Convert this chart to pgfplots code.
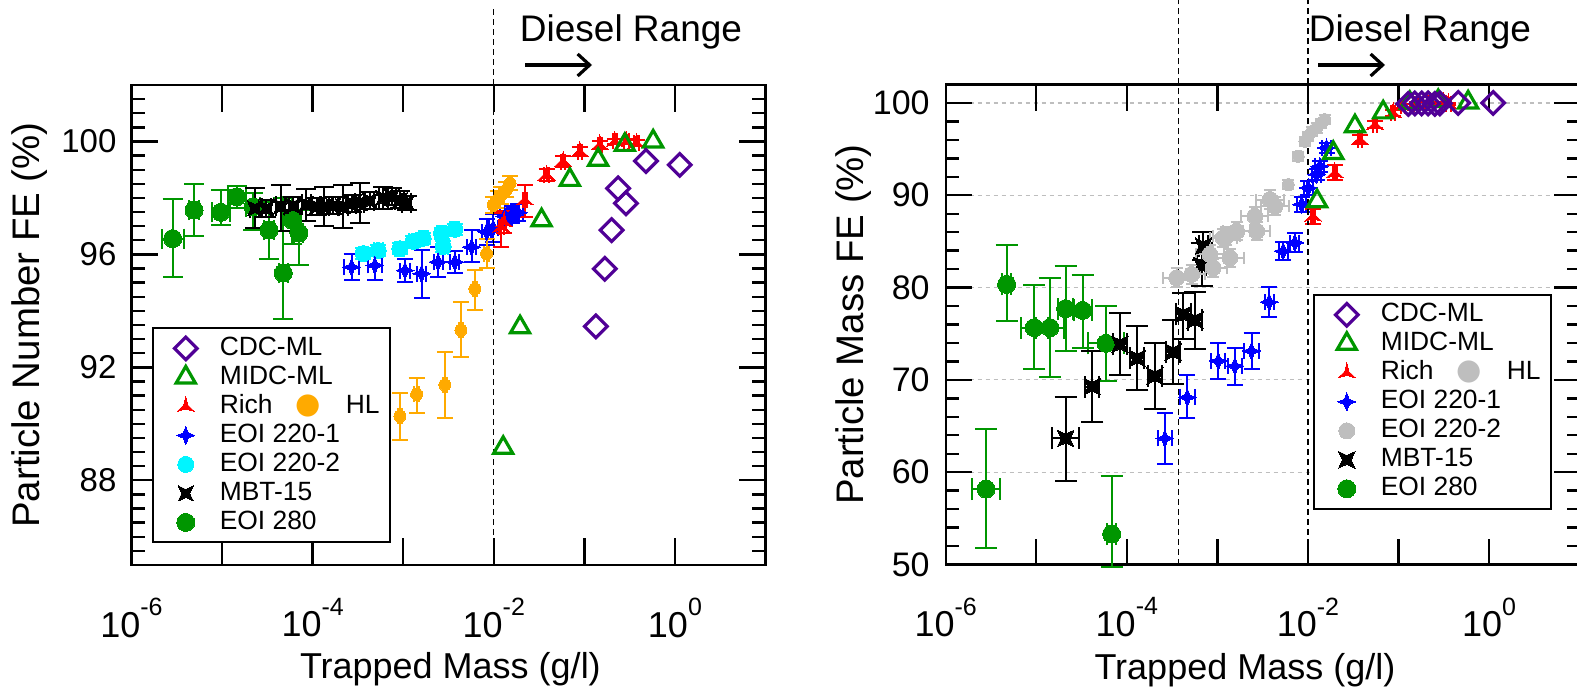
\documentclass[border=0pt]{standalone}
\usepackage{fontspec}
\setmainfont{Liberation Sans}
\newfontfamily\symfont{DejaVu Sans}
\usepackage{pgfplots}
\pgfplotsset{compat=1.18}
\usetikzlibrary{arrows.meta}

\definecolor{cdccol}{RGB}{80,0,150}
\definecolor{midccol}{RGB}{0,150,0}
\definecolor{richcol}{RGB}{255,0,0}
\definecolor{eoiacol}{RGB}{0,0,255}
\definecolor{eoibcol}{RGB}{0,245,255}
\definecolor{hlcol}{RGB}{255,170,0}
\definecolor{lgray}{RGB}{190,190,190}
\definecolor{eoiccol}{RGB}{0,150,0}

% decade tick label with a raised exponent
\newcommand{\dec}[1]{10\raisebox{0.6em}{\fontsize{12.5}{13}\selectfont #1}}
% filled circle used for the HL entry that shares the Rich row
\newcommand{\hldot}[1]{{\symfont\fontsize{14.5}{15}\selectfont\textcolor{#1}{●}}}

% concave four-point star
\pgfdeclareplotmark{fourstar}{%
  \pgfpathmoveto{\pgfqpoint{0pt}{\pgfplotmarksize}}%
  \pgfpathlineto{\pgfqpoint{0.28\pgfplotmarksize}{0.28\pgfplotmarksize}}%
  \pgfpathlineto{\pgfqpoint{\pgfplotmarksize}{0pt}}%
  \pgfpathlineto{\pgfqpoint{0.28\pgfplotmarksize}{-0.28\pgfplotmarksize}}%
  \pgfpathlineto{\pgfqpoint{0pt}{-\pgfplotmarksize}}%
  \pgfpathlineto{\pgfqpoint{-0.28\pgfplotmarksize}{-0.28\pgfplotmarksize}}%
  \pgfpathlineto{\pgfqpoint{-\pgfplotmarksize}{0pt}}%
  \pgfpathlineto{\pgfqpoint{-0.28\pgfplotmarksize}{0.28\pgfplotmarksize}}%
  \pgfpathclose
  \pgfusepathqfillstroke}
% square with concave sides
\pgfdeclareplotmark{bowtie}{%
  \pgfpathmoveto{\pgfqpoint{0.75\pgfplotmarksize}{0.75\pgfplotmarksize}}%
  \pgfpathlineto{\pgfqpoint{0pt}{0.4\pgfplotmarksize}}%
  \pgfpathlineto{\pgfqpoint{-0.75\pgfplotmarksize}{0.75\pgfplotmarksize}}%
  \pgfpathlineto{\pgfqpoint{-0.4\pgfplotmarksize}{0pt}}%
  \pgfpathlineto{\pgfqpoint{-0.75\pgfplotmarksize}{-0.75\pgfplotmarksize}}%
  \pgfpathlineto{\pgfqpoint{0pt}{-0.4\pgfplotmarksize}}%
  \pgfpathlineto{\pgfqpoint{0.75\pgfplotmarksize}{-0.75\pgfplotmarksize}}%
  \pgfpathlineto{\pgfqpoint{0.4\pgfplotmarksize}{0pt}}%
  \pgfpathclose
  \pgfusepathqfillstroke}
% concave three-point star
\pgfdeclareplotmark{threestar}{%
  \pgfpathmoveto{\pgfqpoint{0pt}{\pgfplotmarksize}}%
  \pgfpathlineto{\pgfqpoint{-0.2165\pgfplotmarksize}{0.125\pgfplotmarksize}}%
  \pgfpathlineto{\pgfqpoint{-0.866\pgfplotmarksize}{-0.5\pgfplotmarksize}}%
  \pgfpathlineto{\pgfqpoint{0pt}{-0.25\pgfplotmarksize}}%
  \pgfpathlineto{\pgfqpoint{0.866\pgfplotmarksize}{-0.5\pgfplotmarksize}}%
  \pgfpathlineto{\pgfqpoint{0.2165\pgfplotmarksize}{0.125\pgfplotmarksize}}%
  \pgfpathclose
  \pgfusepathqfillstroke}

\begin{document}
\begin{tikzpicture}

% ---------- particle number filtration efficiency ----------
\begin{axis}[at={(65.75pt,-282.5pt)}, anchor=south west,
  scale only axis, width=317pt, height=240pt,
  xmode=log, xmin=1e-6, xmax=10,
  xtick={1e-6,1e-5,1e-4,1e-3,1e-2,1e-1,1,10},
  xticklabels={\dec{-6},,\dec{-4},,\dec{-2},,\dec{0},},
  xminorticks=false,
  ymin=85, ymax=102, ytick={88,92,96,100}, minor ytick={85,85.5,...,102},
  tick align=inside,
  major tick length=13.5pt, minor tick length=7pt,
  major tick style={line width=1.2pt, black},
  minor tick style={line width=1.2pt, black},
  axis line style={line width=1.2pt},
  /pgf/number format/assume math mode=true,
  xticklabel style={font=\fontsize{18}{20}\selectfont, yshift=-13pt},
  yticklabel style={font=\fontsize{16.5}{18}\selectfont, xshift=-4pt},
  clip=false,
  xlabel={Trapped Mass (g/l)},
  xlabel style={font=\fontsize{18}{20}\selectfont, at={(axis description cs:0.503,-0.218)}, anchor=center},
  ylabel={Particle Number FE (\%)},
  ylabel style={font=\fontsize{19.2}{22}\selectfont, at={(axis description cs:-0.160,0.5)}, anchor=center},
  reverse legend,
  legend cell align=left,
  legend image code/.code={\path (-12pt,0pt) (12pt,0pt); \draw[#1] plot coordinates {(0pt,0pt)};},
  legend style={at={(0.032,0.045)}, anchor=south west,
    draw=black, line width=1pt, fill=white,
    font=\fontsize{13.2}{15}\selectfont,
    inner xsep=4pt, inner ysep=3pt, row sep=0.5pt, column sep=3.5pt,
    nodes={inner sep=1pt, text height=9.5pt, text depth=2.5pt}},
]
\addplot[color=eoiccol, only marks, mark=*, mark size=4.5pt, mark options={line width=0pt},
  error bars/.cd, y dir=both, y explicit, x dir=both, x explicit relative,
  error bar style={line width=1pt}, error mark options={rotate=90, mark size=5pt, line width=1pt}]
  table[x=x, y=y, y error plus=yp, y error minus=ym, x error plus=xp, x error minus=xm] {
x y yp ym xp xm
2.85e-6 96.56 1.39 1.36 0.318 0.241
4.9e-6 97.57 0.91 0.93 0.122 0.109
9.7e-6 97.49 0.79 0.45 0.259 0.206
1.45e-5 98.04 0.38 0.41 0.259 0.206
2.2e-5 97.69 0.47 0.83 0.202 0.168
3.3e-5 96.86 1.00 1.01 0.122 0.109
4.74e-5 95.34 2.65 1.62 0.122 0.109
5.96e-5 97.21 0.83 0.83 0.259 0.206
7.06e-5 96.76 0.81 1.15 0.122 0.109
};
\addlegendentry{EOI 280}
\addplot[color=black, only marks, mark=bowtie, mark size=5pt, mark options={line width=0pt},
  error bars/.cd, y dir=both, y explicit, x dir=both, x explicit relative,
  error bar style={line width=1pt}, error mark options={rotate=90, mark size=5pt, line width=1pt}]
  table[x=x, y=y, y error plus=yp, y error minus=ym, x error plus=xp, x error minus=xm] {
x y yp ym xp xm
2.31e-5 97.63 0.71 0.71 0.122 0.109
3.09e-5 97.63 0.30 0.30 0.122 0.109
4.47e-5 97.70 0.77 0.86 0.122 0.109
6.11e-5 97.72 0.30 0.30 0.122 0.109
8.51e-5 97.77 0.55 0.60 0.122 0.109
1.107e-4 97.70 0.30 0.30 0.122 0.109
1.343e-4 97.70 0.70 0.70 0.122 0.109
1.687e-4 97.72 0.30 0.30 0.122 0.109
2.178e-4 97.70 0.77 0.77 0.122 0.109
2.69e-4 97.80 0.30 0.30 0.122 0.109
3.33e-4 97.83 0.70 0.70 0.122 0.109
4.27e-4 97.90 0.30 0.30 0.122 0.109
6.03e-4 98.00 0.40 0.40 0.122 0.109
7.45e-4 98.05 0.30 0.30 0.122 0.109
9.2e-4 97.93 0.30 0.30 0.122 0.109
1.089e-3 97.83 0.25 0.25 0.122 0.109
};
\addlegendentry{MBT-15}
\addplot[color=eoibcol, only marks, mark=*, mark size=4pt, mark options={line width=0pt},
  error bars/.cd, y dir=both, y explicit, x dir=both, x explicit relative,
  error bar style={line width=1pt}, error mark options={rotate=90, mark size=4pt, line width=1pt}]
  table[x=x, y=y, y error plus=yp, y error minus=ym, x error plus=xp, x error minus=xm] {
x y yp ym xp xm
3.63e-4 96.03 0.20 0.20 0.122 0.109
5.3e-4 96.14 0.20 0.20 0.122 0.109
9.2e-4 96.20 0.20 0.20 0.122 0.109
1.288e-3 96.46 0.20 0.20 0.122 0.109
1.66e-3 96.57 0.20 0.20 0.122 0.109
2.65e-3 96.75 0.20 0.20 0.122 0.109
2.77e-3 96.28 0.20 0.20 0.122 0.109
3.72e-3 96.89 0.20 0.20 0.122 0.109
};
\addlegendentry{EOI 220-2}
\addplot[color=eoiacol, only marks, mark=fourstar, mark size=4.5pt, mark options={line width=0pt},
  error bars/.cd, y dir=both, y explicit, x dir=both, x explicit relative,
  error bar style={line width=1pt}, error mark options={rotate=90, mark size=4pt, line width=1pt}]
  table[x=x, y=y, y error plus=yp, y error minus=ym, x error plus=xp, x error minus=xm] {
x y yp ym xp xm
2.69e-4 95.55 0.45 0.45 0.202 0.168
4.86e-4 95.61 0.42 0.51 0.202 0.168
1.047e-3 95.43 0.42 0.41 0.122 0.109
1.596e-3 95.32 0.83 0.88 0.122 0.109
2.43e-3 95.73 0.53 0.53 0.122 0.109
3.72e-3 95.73 0.40 0.40 0.122 0.109
5.69e-3 96.26 0.60 0.53 0.122 0.109
8.32e-3 96.80 0.45 0.45 0.122 0.109
9.84e-3 96.93 0.50 0.50 0.122 0.109
1.324e-2 97.35 0.30 0.30 0.122 0.109
1.585e-2 97.42 0.30 0.30 0.122 0.109
1.86e-2 97.48 0.30 0.30 0.122 0.109
};
\addlegendentry{EOI 220-1}
\addplot[color=hlcol, only marks, mark=*, mark size=3pt, mark options={line width=0pt}, forget plot,
  error bars/.cd, y dir=both, y explicit, x dir=both, x explicit relative,
  error bar style={line width=1pt}, error mark options={rotate=90, mark size=4pt, line width=1pt}]
  table[x=x, y=y, y error plus=yp, y error minus=ym, x error plus=xp, x error minus=xm] {
x y yp ym xp xm
9.2e-4 90.27 0.83 0.86 0.060 0.055
1.406e-3 91.05 0.59 0.66 0.060 0.055
2.88e-3 91.38 1.15 1.17 0.060 0.055
4.34e-3 93.32 0.99 0.97 0.060 0.055
6.17e-3 94.78 0.68 0.74 0.060 0.055
8.32e-3 96.03 0.50 0.50 0.060 0.055
9.84e-3 97.75 0.30 0.30 0.060 0.055
1.1e-2 97.95 0.30 0.30 0.060 0.055
1.216e-2 98.10 0.30 0.30 0.060 0.055
1.38e-2 98.30 0.25 0.25 0.060 0.055
1.514e-2 98.52 0.25 0.25 0.060 0.055
};
\addplot[color=richcol, only marks, mark=threestar, mark size=5pt, mark options={line width=0pt},
  error bars/.cd, y dir=both, y explicit, x dir=both, x explicit relative,
  error bar style={line width=1pt}, error mark options={rotate=90, mark size=4pt, line width=1pt}]
  table[x=x, y=y, y error plus=yp, y error minus=ym, x error plus=xp, x error minus=xm] {
x y yp ym xp xm
1.216e-2 96.97 0.48 0.71 0.060 0.055
1.3e-2 97.15 0.40 0.40 0.060 0.055
2.2e-2 97.93 0.53 0.60 0.060 0.055
3.83e-2 98.81 0.20 0.20 0.060 0.055
5.83e-2 99.29 0.20 0.20 0.060 0.055
8.91e-2 99.64 0.15 0.15 0.060 0.055
0.148 99.88 0.15 0.15 0.060 0.055
0.217 100.00 0.10 0.10 0.060 0.055
0.292 100.00 0.10 0.10 0.060 0.055
0.377 99.94 0.10 0.10 0.060 0.055
};
\addlegendentry{Rich\hspace{11.5pt}\hldot{hlcol}\hspace{12.5pt}HL}
\addplot[color=midccol, only marks, mark=triangle, mark size=5.5pt, mark options={line width=1.6pt}]
  table[x=x, y=y] {
x y
1.27e-2 89.15
1.95e-2 93.42
3.37e-2 97.21
6.92e-2 98.64
0.142 99.35
0.28 99.88
0.575 100.00
};
\addlegendentry{MIDC-ML}
\addplot[color=cdccol, only marks, mark=square, mark size=4pt, mark options={rotate=45, line width=1.6pt}]
  table[x=x, y=y] {
x y
0.134 93.45
0.168 95.49
0.2 96.86
0.236 98.34
0.288 97.81
0.479 99.31
1.13 99.17
};
\addlegendentry{CDC-ML}
\draw[line width=0.7pt, dash pattern=on 3pt off 2pt] (axis cs:1e-2,85) -- (axis cs:1e-2,104.7);
\end{axis}

% ---------- particle mass filtration efficiency ----------
\begin{axis}[at={(472.85pt,-282.25pt)}, anchor=south west,
  scale only axis, width=317pt, height=240pt,
  xmode=log, xmin=1e-6, xmax=10,
  xtick={1e-6,1e-5,1e-4,1e-3,1e-2,1e-1,1,10},
  xticklabels={\dec{-6},,\dec{-4},,\dec{-2},,\dec{0},},
  xminorticks=false,
  ymin=50, ymax=102, ytick={50,60,...,100}, minor ytick={50,52,...,102},
  ymajorgrids, major grid style={line width=0.6pt, lgray, dash pattern=on 2pt off 2pt},
  tick align=inside,
  major tick length=13pt, minor tick length=6.5pt,
  major tick style={line width=1.2pt, black},
  minor tick style={line width=1.2pt, black},
  axis line style={line width=1.2pt},
  /pgf/number format/assume math mode=true,
  xticklabel style={font=\fontsize{18}{20}\selectfont, yshift=-13pt},
  yticklabel style={font=\fontsize{17}{18}\selectfont, xshift=-4.5pt},
  clip=false,
  xlabel={Trapped Mass (g/l)},
  xlabel style={font=\fontsize{18}{20}\selectfont, at={(axis description cs:0.472,-0.22)}, anchor=center},
  ylabel={Particle Mass FE (\%)},
  ylabel style={font=\fontsize{19.2}{22}\selectfont, at={(axis description cs:-0.146,0.5)}, anchor=center},
  reverse legend,
  legend cell align=left,
  legend image code/.code={\path (-12pt,0pt) (12pt,0pt); \draw[#1] plot coordinates {(0pt,0pt)};},
  legend style={at={(0.579,0.114)}, anchor=south west,
    draw=black, line width=1pt, fill=white,
    font=\fontsize{13.2}{15}\selectfont,
    inner xsep=4pt, inner ysep=3pt, row sep=0.5pt, column sep=3.5pt,
    nodes={inner sep=1pt, text height=9.5pt, text depth=2.5pt}},
]
\addplot[color=eoiccol, only marks, mark=*, mark size=4.5pt, mark options={line width=0pt},
  error bars/.cd, y dir=both, y explicit, x dir=both, x explicit relative,
  error bar style={line width=1pt}, error mark options={rotate=90, mark size=5.5pt, line width=1pt}]
  table[x=x, y=y, y error plus=yp, y error minus=ym, x error plus=xp, x error minus=xm] {
x y yp ym xp xm
2.79e-6 58.17 6.49 6.41 0.413 0.292
4.71e-6 80.35 4.21 3.97 0.122 0.109
9.5e-6 75.66 4.58 4.43 0.413 0.292
1.416e-5 75.66 5.41 5.30 0.413 0.292
2.11e-5 77.72 4.61 4.59 0.202 0.168
3.25e-5 77.53 3.79 4.03 0.259 0.206
5.89e-5 73.96 4.04 4.06 0.585 0.369
6.79e-5 53.30 6.30 3.60 0.122 0.109
};
\addlegendentry{EOI 280}
\addplot[color=black, only marks, mark=bowtie, mark size=5.5pt, mark options={line width=0pt},
  error bars/.cd, y dir=both, y explicit, x dir=both, x explicit relative,
  error bar style={line width=1pt}, error mark options={rotate=90, mark size=5.5pt, line width=1pt}]
  table[x=x, y=y, y error plus=yp, y error minus=ym, x error plus=xp, x error minus=xm] {
x y yp ym xp xm
2.11e-5 63.66 4.44 4.59 0.413 0.292
4.15e-5 69.28 3.85 3.83 0.202 0.168
8.39e-5 73.86 3.35 3.36 0.202 0.168
1.303e-4 72.34 3.50 3.43 0.202 0.168
2.04e-4 70.43 3.61 3.61 0.202 0.168
3.25e-4 73.02 3.46 3.49 0.202 0.168
4.2e-4 77.10 2.35 2.70 0.202 0.168
5.65e-4 76.49 3.02 3.19 0.202 0.168
6.7e-4 82.40 2.46 2.24 0.122 0.109
6.98e-4 84.49 1.50 1.50 0.122 0.109
};
\addlegendentry{MBT-15}
\addplot[color=lgray, only marks, mark=*, mark size=4pt, mark options={line width=0pt},
  error bars/.cd, y dir=both, y explicit, x dir=both, x explicit relative,
  error bar style={line width=1pt}, error mark options={rotate=90, mark size=3pt, line width=1pt}]
  table[x=x, y=y, y error plus=yp, y error minus=ym, x error plus=xp, x error minus=xm] {
x y yp ym xp xm
3.55e-4 81.07 1.00 1.00 0.413 0.292
5.19e-4 81.43 1.00 1.00 0.413 0.292
8.26e-4 83.60 1.00 1.00 0.413 0.292
8.99e-4 82.15 1.00 1.00 0.413 0.292
1.159e-3 85.40 1.00 1.00 0.413 0.292
1.259e-3 85.57 1.00 1.00 0.413 0.292
1.374e-3 83.23 1.00 1.00 0.413 0.292
1.629e-3 86.11 1.00 1.00 0.413 0.292
2.59e-3 87.73 1.00 1.00 0.413 0.292
2.71e-3 86.11 1.00 1.00 0.413 0.292
3.8e-3 89.54 1.00 1.00 0.413 0.292
4.32e-3 88.82 1.00 1.00 0.413 0.292
};
\addlegendentry{EOI 220-2}
\addplot[color=eoiacol, only marks, mark=fourstar, mark size=4.5pt, mark options={line width=0pt},
  error bars/.cd, y dir=both, y explicit, x dir=both, x explicit relative,
  error bar style={line width=1pt}, error mark options={rotate=90, mark size=4pt, line width=1pt}]
  table[x=x, y=y, y error plus=yp, y error minus=ym, x error plus=xp, x error minus=xm] {
x y yp ym xp xm
2.63e-4 63.66 2.73 2.78 0.202 0.168
4.65e-4 68.10 2.40 2.28 0.202 0.168
1.021e-3 72.05 2.00 2.00 0.202 0.168
1.56e-3 71.50 2.00 2.00 0.202 0.168
2.38e-3 73.13 2.00 2.00 0.202 0.168
3.73e-3 78.43 1.60 1.60 0.122 0.109
5.32e-3 83.95 1.00 1.00 0.122 0.109
7.16e-3 84.86 1.00 1.00 0.122 0.109
8.51e-3 89.00 0.80 0.80 0.122 0.109
1.005e-2 90.80 0.80 0.80 0.122 0.109
1.245e-2 92.24 0.60 0.60 0.122 0.109
1.352e-2 93.14 0.60 0.60 0.122 0.109
1.603e-2 95.13 0.50 0.50 0.122 0.109
};
\addlegendentry{EOI 220-1}
\addplot[color=lgray, only marks, mark=*, mark size=3pt, mark options={line width=0pt}, forget plot,
  error bars/.cd, y dir=both, y explicit, x dir=both, x explicit relative,
  error bar style={line width=1pt}, error mark options={rotate=90, mark size=3pt, line width=1pt}]
  table[x=x, y=y, y error plus=yp, y error minus=ym, x error plus=xp, x error minus=xm] {
x y yp ym xp xm
6.05e-3 91.16 0.50 0.50 0.060 0.055
7.8e-3 94.22 0.50 0.50 0.060 0.055
9.25e-3 95.85 0.50 0.50 0.060 0.055
1.005e-2 96.39 0.50 0.50 0.060 0.055
1.1e-2 96.90 0.50 0.50 0.060 0.055
1.245e-2 97.30 0.50 0.50 0.060 0.055
1.4e-2 97.80 0.50 0.50 0.060 0.055
1.535e-2 98.20 0.50 0.50 0.060 0.055
};
\addplot[color=richcol, only marks, mark=threestar, mark size=5pt, mark options={line width=0pt},
  error bars/.cd, y dir=both, y explicit, x dir=both, x explicit relative,
  error bar style={line width=1pt}, error mark options={rotate=90, mark size=4pt, line width=1pt}]
  table[x=x, y=y, y error plus=yp, y error minus=ym, x error plus=xp, x error minus=xm] {
x y yp ym xp xm
1.14e-2 87.73 0.80 0.80 0.060 0.055
1.98e-2 92.43 0.80 0.80 0.060 0.055
3.74e-2 96.03 0.50 0.50 0.060 0.055
5.5e-2 97.65 0.40 0.40 0.060 0.055
8.71e-2 98.92 0.30 0.30 0.060 0.055
0.112 99.64 0.20 0.20 0.060 0.055
0.158 99.90 0.20 0.20 0.060 0.055
0.224 100.00 0.10 0.10 0.060 0.055
0.316 100.00 0.10 0.10 0.060 0.055
0.355 99.90 0.10 0.10 0.060 0.055
};
\addlegendentry{Rich\hspace{11.5pt}\hldot{lgray}\hspace{12.5pt}HL}
\addplot[color=midccol, only marks, mark=triangle, mark size=5.5pt, mark options={line width=1.6pt}]
  table[x=x, y=y] {
x y
1.26e-2 89.36
1.9e-2 94.59
3.3e-2 97.47
6.76e-2 98.98
0.133 100.00
0.274 100.20
0.586 100.06
};
\addlegendentry{MIDC-ML}
\addplot[color=cdccol, only marks, mark=square, mark size=4pt, mark options={rotate=45, line width=1.6pt}]
  table[x=x, y=y] {
x y
0.128 99.90
0.151 99.95
0.18 99.95
0.212 99.95
0.252 99.90
0.286 99.95
0.455 100.00
1.107 100.00
};
\addlegendentry{CDC-ML}
\draw[line width=0.7pt, dash pattern=on 3pt off 2pt] (axis cs:3.7e-4,50) -- (axis cs:3.7e-4,111.2);
\draw[line width=0.7pt, dash pattern=on 3pt off 2pt] (axis cs:1e-2,50) -- (axis cs:1e-2,111.2);
\end{axis}

% diesel range annotations
\node[font=\fontsize{18.5}{20}\selectfont] at (315.5pt,-15.75pt) {Diesel Range};
\draw[line width=1.6pt, -{Straight Barb[length=6pt,width=11pt]}] (262.5pt,-32.5pt) -- (296pt,-32.5pt);
\node[font=\fontsize{18.5}{20}\selectfont] at (710pt,-15.75pt) {Diesel Range};
\draw[line width=1.6pt, -{Straight Barb[length=6pt,width=11pt]}] (659pt,-32.5pt) -- (692.5pt,-32.5pt);

\pgfresetboundingbox
\useasboundingbox (0pt,0pt) rectangle (788.5pt,-344.5pt);
\end{tikzpicture}
\end{document}
